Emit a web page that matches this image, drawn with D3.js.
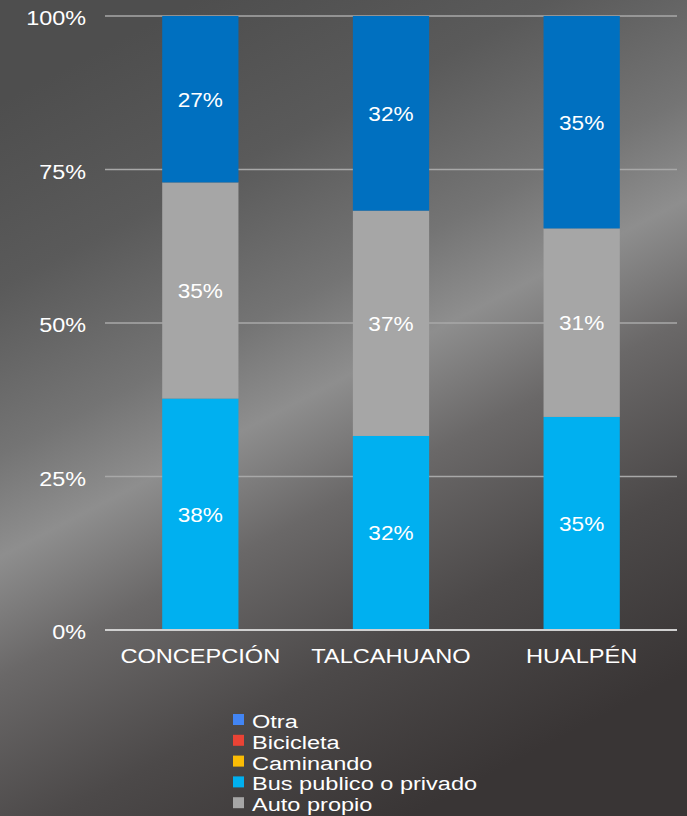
<!DOCTYPE html>
<html><head><meta charset="utf-8">
<script src="https://cdn.jsdelivr.net/npm/d3@7"></script>
<style>html,body{margin:0;padding:0;background:#4a4a4a;}svg{display:block;}</style>
</head><body>
<script>
const categories = ["CONCEPCIÓN", "TALCAHUANO", "HUALPÉN"];
const busValues = [0.377, 0.316, 0.347];
const autoValues = [0.352, 0.367, 0.307];
const otraValues = [0.271, 0.317, 0.346];
const yTicks = [0, 0.25, 0.5, 0.75, 1];
const yTickLabels = ["0%", "25%", "50%", "75%", "100%"];
const legendLabels = ["Otra", "Bicicleta", "Caminando", "Bus publico o privado", "Auto propio"];
const legendColors = ["#4285F4", "#EA4335", "#FBBC04", "#00B0F0", "#A6A6A6"];

const W = 687, H = 816;
const svg = d3.select("body").append("svg").attr("width", W).attr("height", H);
const defs = svg.append("defs");
const g1 = defs.append("linearGradient").attr("id","bg").attr("gradientUnits","userSpaceOnUse")
  .attr("x1",100).attr("y1",50).attr("x2",480).attr("y2",780);
[[0,"#4e4e4e"],[0.2,"#5a5a5a"],[0.38,"#747474"],[0.49,"#8e8e8e"],[0.62,"#6a6868"],[0.8,"#4c4949"],[1,"#393535"]]
  .forEach(([o,c])=>g1.append("stop").attr("offset",o).attr("stop-color",c));
svg.append("rect").attr("width",W).attr("height",H).attr("fill","url(#bg)");

const x = d3.scaleBand().domain(categories).range([105, 677]).paddingInner(0.6).paddingOuter(0.3);
const y = d3.scaleLinear().domain([0, 1]).range([630, 16]);

function stext(parent, px, py, str, size, anchor, sx) {
  return parent.append("text")
    .attr("transform", `translate(${px},${py}) scale(${sx || 1.2},1)`)
    .attr("text-anchor", anchor)
    .attr("font-family", "'Liberation Sans', Arial, sans-serif")
    .attr("font-size", size)
    .attr("fill", "#ffffff")
    .text(str);
}

// gridlines
svg.append("g").selectAll("line").data(yTicks.filter(t => t > 0)).join("line")
  .attr("x1", 105).attr("x2", 677)
  .attr("y1", d => y(d)).attr("y2", d => y(d))
  .attr("stroke", "#a8a8a8").attr("stroke-width", 1.5);

// stacked bars
const rows = categories.map((c, i) => ({cat: c, bus: busValues[i], auto: autoValues[i], otra: otraValues[i]}));
const keys = ["bus", "auto", "otra"];
const barColors = {bus: "#00B0F0", auto: "#A6A6A6", otra: "#0070C0"};
const stack = d3.stack().keys(keys)(rows);
const gBars = svg.append("g");
stack.forEach(layer => {
  const key = layer.key;
  gBars.selectAll(null).data(layer).join("rect")
    .attr("x", d => x(d.data.cat))
    .attr("width", x.bandwidth())
    .attr("y", d => y(d[1]))
    .attr("height", d => y(d[0]) - y(d[1]))
    .attr("fill", barColors[key]);
  layer.forEach(d => {
    const cy = (y(d[0]) + y(d[1])) / 2;
    stext(gBars, x(d.data.cat) + x.bandwidth() / 2, cy + 7.5, Math.round(d.data[key] * 100) + "%", 19.5, "middle", 1.16);
  });
});

// baseline
svg.append("line").attr("x1", 105).attr("x2", 677).attr("y1", y(0)).attr("y2", y(0))
  .attr("stroke", "#d0d0d0").attr("stroke-width", 2);

// y tick labels
yTicks.forEach((t, i) => stext(svg, 86, y(t) + 9, yTickLabels[i], 19.5, "end", 1.2));

// category labels
categories.forEach(c => stext(svg, x(c) + x.bandwidth() / 2, 663, c, 19.5, "middle", 1.21));

// legend
const lg = svg.append("g");
legendLabels.forEach((l, i) => {
  const by = 728 + i * 20.8;
  lg.append("rect").attr("x", 233).attr("y", by - 14).attr("width", 11).attr("height", 11).attr("fill", legendColors[i]);
  stext(lg, 252, by, l, 19, "start", 1.24);
});
</script>
</body></html>
